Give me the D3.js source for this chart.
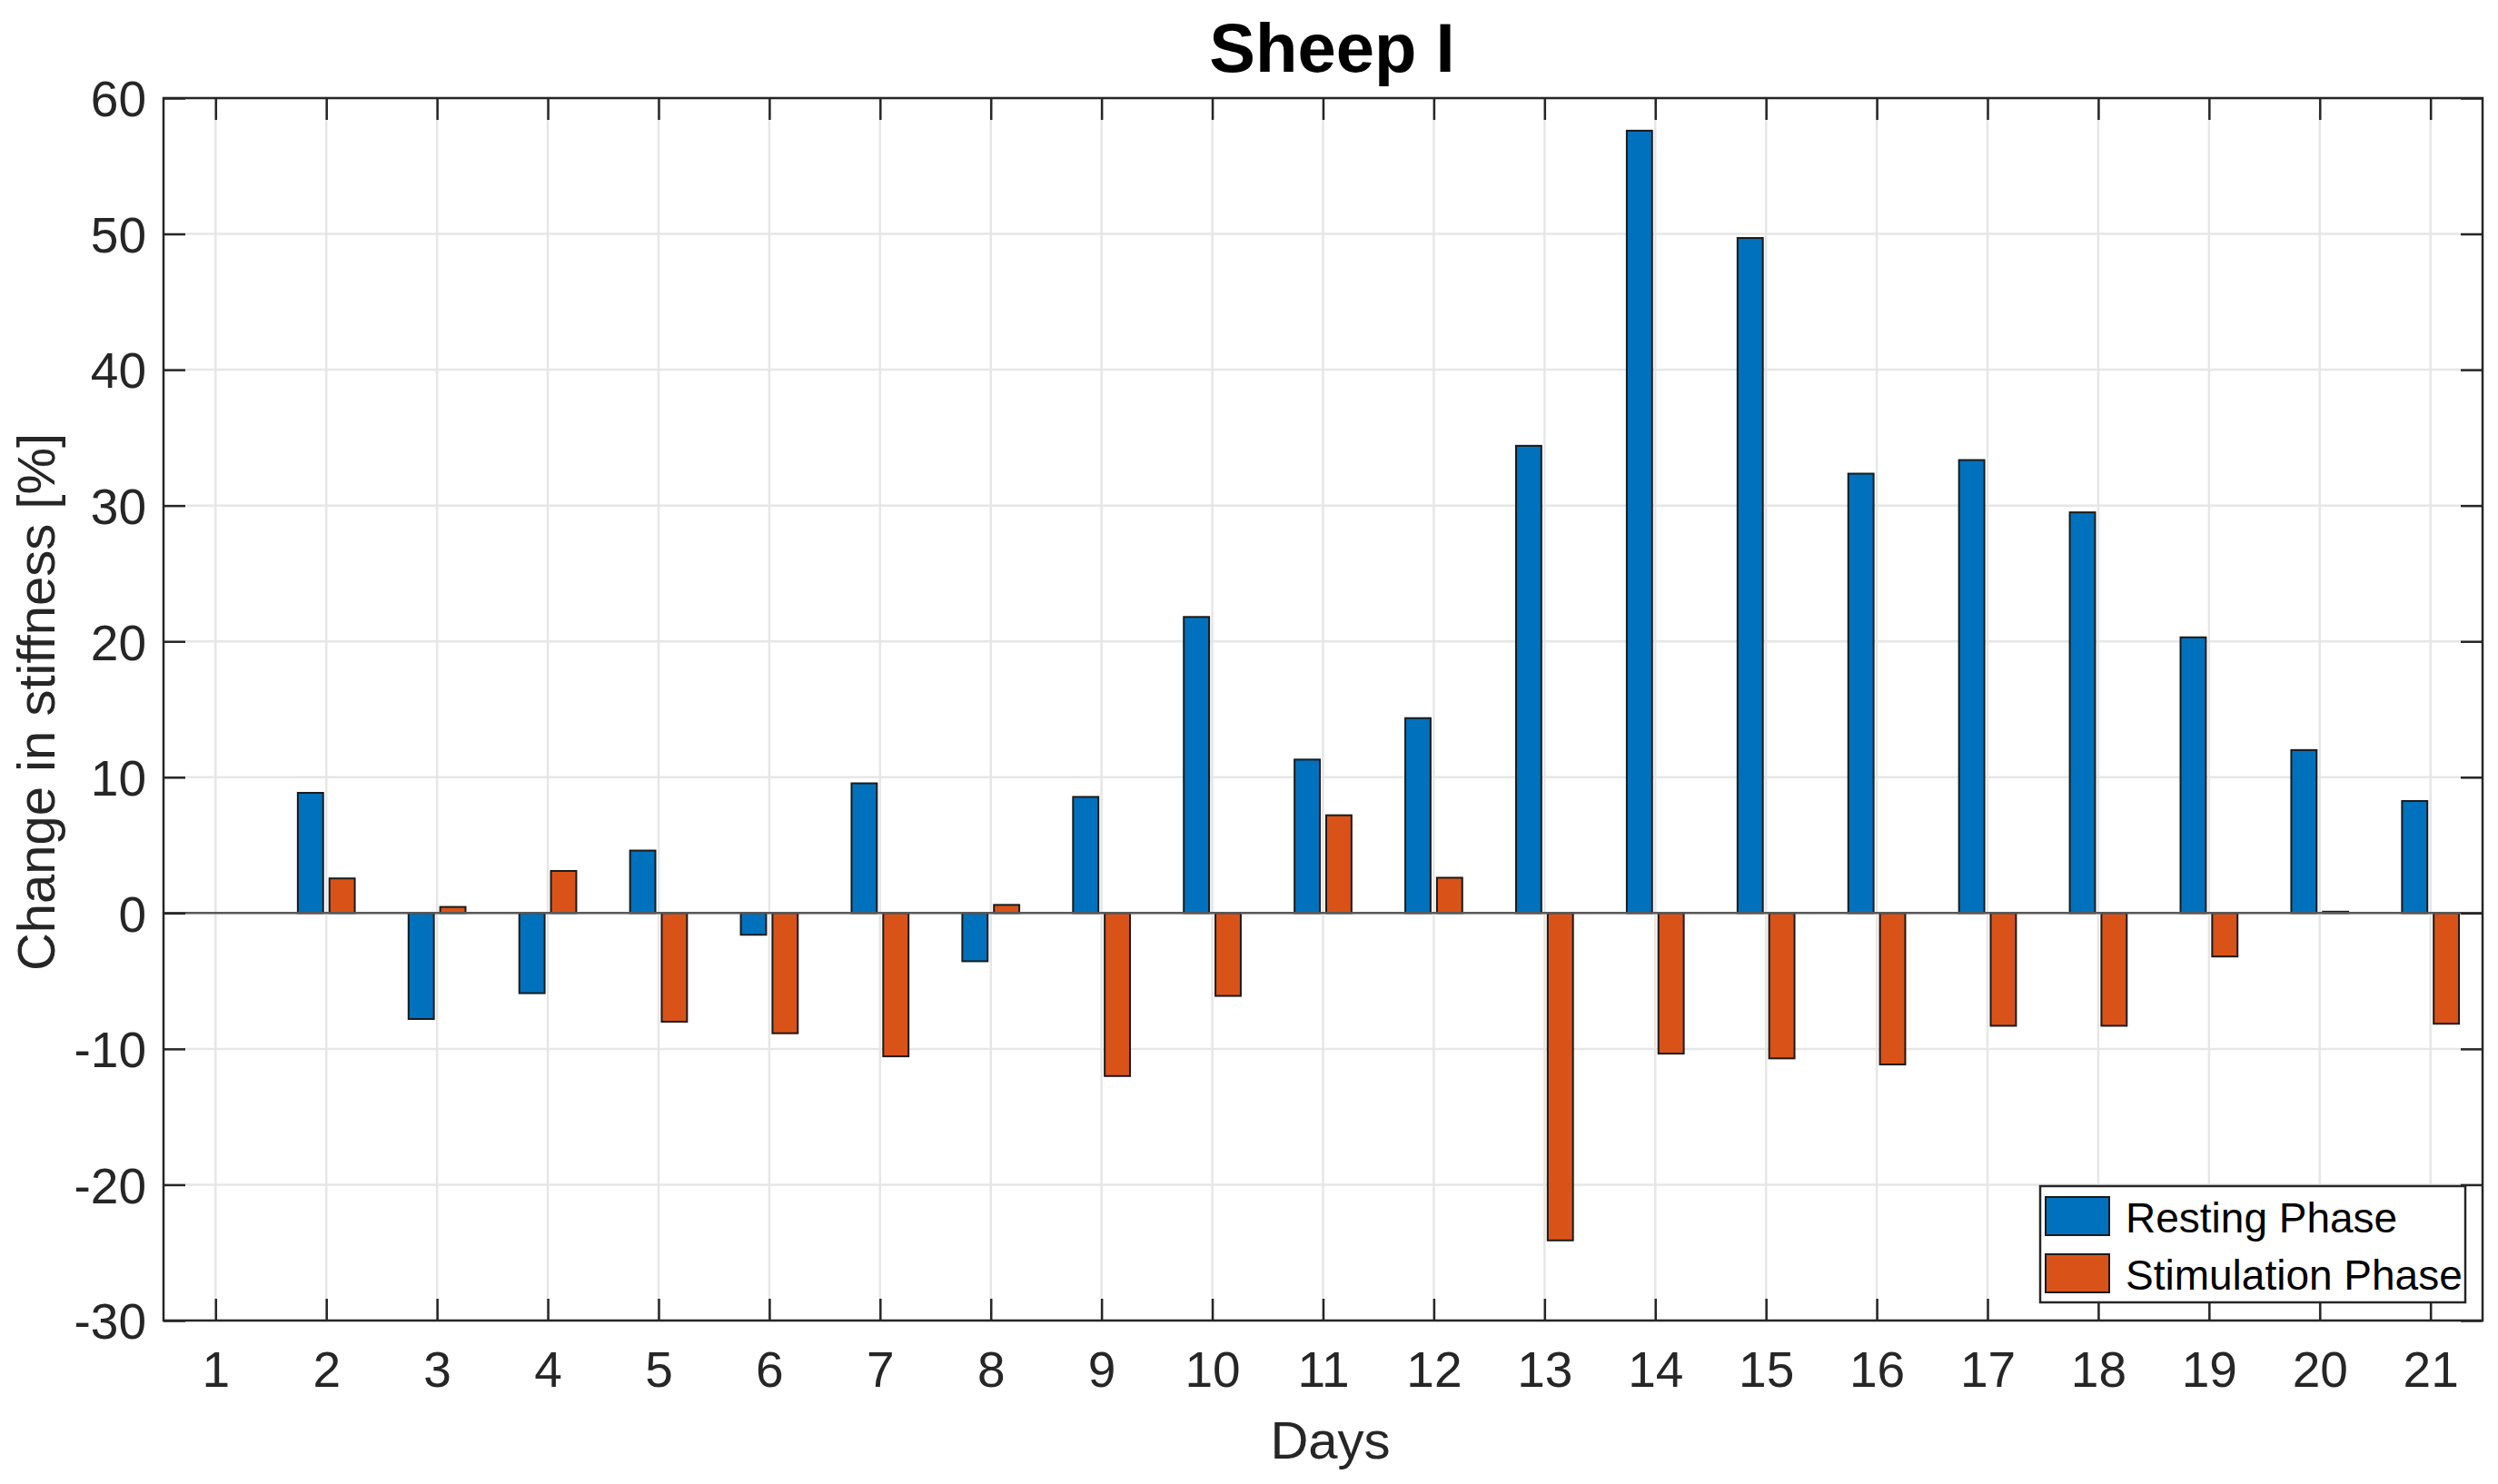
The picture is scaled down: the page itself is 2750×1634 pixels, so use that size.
<!DOCTYPE html>
<html>
<head>
<meta charset="utf-8">
<script src="https://cdn.jsdelivr.net/npm/d3@7"></script>
<style>
  html, body { margin: 0; padding: 0; background: #fff; }
  svg { display: block; }
</style>
</head>
<body>
<div id="chart"></div>
<script>
// ---- data ----
const days = [1,2,3,4,5,6,7,8,9,10,11,12,13,14,15,16,17,18,19,20,21];
const restingPhase = [null, 8.85, -7.8, -5.9, 4.6, -1.6, 9.55, -3.55, 8.55, 21.8, 11.3, 14.35, 34.4, 57.6, 49.7, 32.35, 33.35, 29.5, 20.3, 12.0, 8.25];
const stimulationPhase = [null, 2.55, 0.45, 3.1, -8.0, -8.85, -10.55, 0.6, -12.0, -6.1, 7.2, 2.6, -24.1, -10.35, -10.7, -11.15, -8.3, -8.3, -3.2, 0.1, -8.15];
const yTicks = [-30, -20, -10, 0, 10, 20, 30, 40, 50, 60];
const seriesNames = ["Resting Phase", "Stimulation Phase"];
const seriesColors = ["#0072BD", "#D95319"];
const titleText = "Sheep I";
const xLabel = "Days";
const yLabel = "Change in stiffness [%]";

// ---- layout ----
const W = 2750, H = 1634;
const L = 180, R = 2733, T = 108, B = 1454;
const font = "'Liberation Sans', Arial, Helvetica, sans-serif";
const axisColor = "#262626";

const svg = d3.select("#chart").append("svg")
  .attr("width", W).attr("height", H)
  .style("font-family", font);

const x = d3.scaleLinear().domain([0.53, 21.47]).range([L, R]);
const y = d3.scaleLinear().domain([-30, 60]).range([B, T]);

// grid
const grid = svg.append("g");
grid.selectAll("line.gx").data(days).enter().append("line")
  .attr("x1", d => x(d)).attr("x2", d => x(d))
  .attr("y1", T).attr("y2", B)
  .attr("stroke", "#e6e6e6").attr("stroke-width", 2.5);
grid.selectAll("line.gy").data(yTicks).enter().append("line")
  .attr("x1", L).attr("x2", R)
  .attr("y1", d => y(d)).attr("y2", d => y(d))
  .attr("stroke", "#e6e6e6").attr("stroke-width", 2.5);

// bars
const groupOffset = 0.1429, barW = 0.2286;
const series = [restingPhase, stimulationPhase];
series.forEach((vals, si) => {
  const off = si === 0 ? -groupOffset : groupOffset;
  const data = days.map((d, i) => ({ d, v: vals[i] })).filter(o => o.v !== null);
  svg.append("g").selectAll("rect").data(data).enter().append("rect")
    .attr("x", o => x(o.d + off - barW / 2))
    .attr("width", x(barW) - x(0))
    .attr("y", o => y(Math.max(0, o.v)))
    .attr("height", o => Math.abs(y(o.v) - y(0)))
    .attr("fill", seriesColors[si])
    .attr("stroke", "#1a1a1a")
    .attr("stroke-width", 2);
});

// baseline
svg.append("line")
  .attr("x1", L).attr("x2", R).attr("y1", y(0)).attr("y2", y(0))
  .attr("stroke", "#595959").attr("stroke-width", 2.5);

// axes with d3 axis generators (ticks inward, on all sides)
const tickLen = 24;
const fmt = d => String(d);
const xAxisB = d3.axisBottom(x).tickValues(days).tickSize(-tickLen).tickFormat(fmt);
const xAxisT = d3.axisTop(x).tickValues(days).tickSize(-tickLen).tickFormat("");
const yAxisL = d3.axisLeft(y).tickValues(yTicks).tickSize(-tickLen).tickPadding(19).tickFormat(fmt);
const yAxisR = d3.axisRight(y).tickValues(yTicks).tickSize(-tickLen).tickFormat("");

function styleAxis(g) {
  g.select(".domain").remove();
  g.selectAll(".tick line").attr("stroke", axisColor).attr("stroke-width", 2.5);
  g.selectAll("text").attr("fill", axisColor).style("font-family", font).style("font-size", "55px");
}
const gxB = svg.append("g").attr("transform", `translate(0,${B})`).call(xAxisB).call(styleAxis);
gxB.selectAll("text").attr("dy", null).attr("y", 73).attr("dominant-baseline", "auto");
svg.append("g").attr("transform", `translate(0,${T})`).call(xAxisT).call(styleAxis);
const gyL = svg.append("g").attr("transform", `translate(${L},0)`).call(yAxisL).call(styleAxis);
gyL.selectAll("text").attr("dy", "0.36em");
svg.append("g").attr("transform", `translate(${R},0)`).call(yAxisR).call(styleAxis);

// box
svg.append("rect")
  .attr("x", L).attr("y", T).attr("width", R - L).attr("height", B - T)
  .attr("fill", "none").attr("stroke", axisColor).attr("stroke-width", 2.5);

// title
svg.append("text")
  .attr("x", (L + R) / 2 + 10).attr("y", 79)
  .attr("text-anchor", "middle")
  .style("font-size", "76px").style("font-weight", "bold")
  .attr("fill", "#000").text(titleText);

// axis labels
svg.append("text")
  .attr("x", (L + R) / 2 + 8).attr("y", 1606)
  .attr("text-anchor", "middle")
  .style("font-size", "58px").attr("fill", axisColor).text(xLabel);

svg.append("text")
  .attr("transform", `translate(60,773) rotate(-90)`)
  .attr("text-anchor", "middle")
  .style("font-size", "58px").attr("fill", axisColor).text(yLabel);

// legend
const lg = svg.append("g");
lg.append("rect")
  .attr("x", 2246).attr("y", 1306).attr("width", 468).attr("height", 128)
  .attr("fill", "#fff").attr("stroke", axisColor).attr("stroke-width", 2.5);
const legendRows = [1339, 1402];
seriesNames.forEach((name, i) => {
  lg.append("rect")
    .attr("x", 2252).attr("y", legendRows[i] - 21).attr("width", 70).attr("height", 42)
    .attr("fill", seriesColors[i]).attr("stroke", "#1a1a1a").attr("stroke-width", 2);
  lg.append("text")
    .attr("x", 2340).attr("y", legendRows[i] + 18)
    .style("font-size", "46px").attr("fill", "#000").text(name);
});
</script>
</body>
</html>
